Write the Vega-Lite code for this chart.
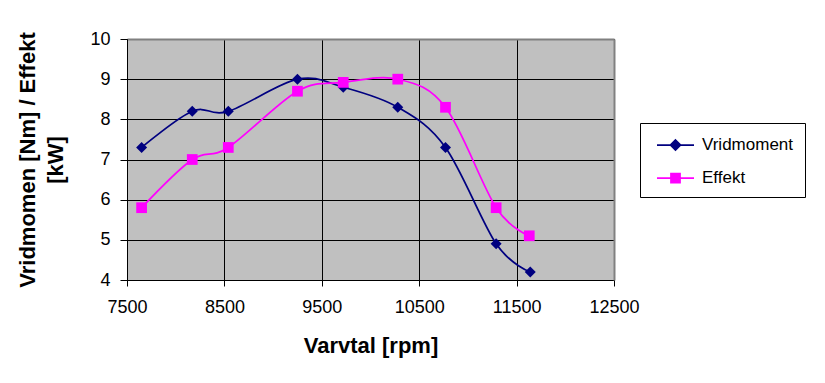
{
  "$schema": "https://vega.github.io/schema/vega-lite/v6.json",
  "width": 487,
  "height": 241,
  "autosize": {"type": "none"},
  "padding": {"left": 127, "top": 39, "right": 211, "bottom": 103},
  "background": "white",
  "config": {
    "view": {"fill": "#C0C0C0", "stroke": null},
    "font": "Liberation Sans"
  },
  "data": {
    "values": [
      {"rpm": 7650, "value": 7.3, "series": "Vridmoment"},
      {"rpm": 8170, "value": 8.2, "series": "Vridmoment"},
      {"rpm": 8540, "value": 8.2, "series": "Vridmoment"},
      {"rpm": 9250, "value": 9.0, "series": "Vridmoment"},
      {"rpm": 9720, "value": 8.8, "series": "Vridmoment"},
      {"rpm": 10280, "value": 8.3, "series": "Vridmoment"},
      {"rpm": 10770, "value": 7.3, "series": "Vridmoment"},
      {"rpm": 11290, "value": 4.9, "series": "Vridmoment"},
      {"rpm": 11640, "value": 4.2, "series": "Vridmoment"},
      {"rpm": 7650, "value": 5.8, "series": "Effekt"},
      {"rpm": 8170, "value": 7.0, "series": "Effekt"},
      {"rpm": 8540, "value": 7.3, "series": "Effekt"},
      {"rpm": 9250, "value": 8.7, "series": "Effekt"},
      {"rpm": 9720, "value": 8.92, "series": "Effekt"},
      {"rpm": 10280, "value": 9.0, "series": "Effekt"},
      {"rpm": 10770, "value": 8.3, "series": "Effekt"},
      {"rpm": 11290, "value": 5.8, "series": "Effekt"},
      {"rpm": 11630, "value": 5.1, "series": "Effekt"}
    ]
  },
  "resolve": {"axis": {"x": "independent", "y": "independent"}},
  "layer": [
    {
      "mark": {"type": "line", "interpolate": "cardinal", "strokeWidth": 1.75},
      "encoding": {
        "x": {
          "field": "rpm", "type": "quantitative",
          "scale": {"domain": [7500, 12500], "nice": false, "zero": false},
          "axis": {
            "values": [7500, 8500, 9500, 10500, 11500, 12500],
            "format": "d",
            "title": "Varvtal [rpm]",
            "titleFont": "Liberation Sans", "titleFontSize": 22, "titleFontWeight": "bold", "titleColor": "black",
            "titlePadding": 19,
            "labelFont": "Liberation Sans", "labelFontSize": 18, "labelColor": "black", "labelPadding": 12, "labelFlush": false,
            "domainColor": "black", "domainWidth": 1,
            "tickColor": "black", "tickSize": 6, "tickWidth": 1,
            "grid": true, "gridColor": "black", "gridWidth": 1, "gridOpacity": 1
          }
        },
        "y": {
          "field": "value", "type": "quantitative",
          "scale": {"domain": [4, 10], "nice": false, "zero": false},
          "axis": {
            "values": [4, 5, 6, 7, 8, 9, 10],
            "title": ["Vridmomen [Nm] / Effekt", "[kW]"],
            "titleFont": "Liberation Sans", "titleFontSize": 22, "titleFontWeight": "bold", "titleColor": "black",
            "titleLineHeight": 28,
            "titlePadding": 22,
            "labelFont": "Liberation Sans", "labelFontSize": 18, "labelColor": "black", "labelPadding": 10,
            "domainColor": "black", "domainWidth": 1,
            "tickColor": "black", "tickSize": 7, "tickWidth": 1,
            "grid": true, "gridColor": "black", "gridWidth": 1, "gridOpacity": 1
          }
        },
        "color": {
          "field": "series", "type": "nominal",
          "scale": {"domain": ["Vridmoment", "Effekt"], "range": ["#000080", "#FF00FF"]},
          "legend": {
            "title": null,
            "orient": "none",
            "legendX": 513,
            "legendY": 84,
            "strokeColor": "black",
            "fillColor": "white",
            "padding": 11,
            "symbolSize": 400,
            "rowPadding": 13,
            "labelOffset": 29,
            "labelFont": "Liberation Sans",
            "labelFontSize": 17,
            "labelColor": "black",
            "encode": {
              "symbols": {
                "update": {
                  "shape": {"signal": "datum.value === 'Vridmoment' ? 'M-0.5,0H3.2M1.35,-0.5L1.85,0L1.35,0.5L0.85,0Z' : 'M-0.5,0H3.2M0.9,-0.45H1.8V0.45H0.9Z'"},
                  "fill": {"scale": "color", "field": "value"},
                  "stroke": {"scale": "color", "field": "value"},
                  "strokeWidth": {"value": 1.75},
                  "opacity": {"value": 1}
                }
              }
            }
          }
        }
      }
    },
    {
      "transform": [{"filter": "datum.series === 'Vridmoment'"}],
      "mark": {"type": "point", "filled": true, "opacity": 1, "shape": "diamond", "size": 121},
      "encoding": {
        "x": {
          "field": "rpm", "type": "quantitative",
          "axis": {"orient": "top", "labels": false, "ticks": false, "grid": false, "title": null, "domainColor": "#808080", "domainWidth": 2}
        },
        "y": {
          "field": "value", "type": "quantitative",
          "axis": {"orient": "right", "labels": false, "ticks": false, "grid": false, "title": null, "domainColor": "#808080", "domainWidth": 2}
        },
        "color": {"field": "series", "type": "nominal", "legend": null}
      }
    },
    {
      "transform": [{"filter": "datum.series === 'Effekt'"}],
      "mark": {"type": "point", "filled": true, "opacity": 1, "shape": "square", "size": 115},
      "encoding": {
        "x": {"field": "rpm", "type": "quantitative", "axis": null},
        "y": {"field": "value", "type": "quantitative", "axis": null},
        "color": {"field": "series", "type": "nominal", "legend": null}
      }
    }
  ]
}
